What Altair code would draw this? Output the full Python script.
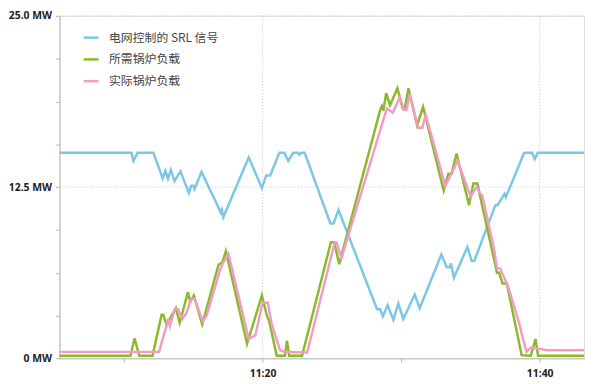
import altair as alt
import pandas as pd

# time in minutes after 11:00, value in MW
srl_t = [5.34, 10.53, 10.68, 10.98, 12.12, 12.79, 12.98, 13.17, 13.38, 13.64, 14.07, 14.68, 14.85, 15.02, 15.09,
         15.59, 16.99, 17.06, 17.17, 19.00, 19.95, 20.26, 20.55, 21.21, 21.57, 21.85, 22.21, 22.56, 22.65, 22.80,
         23.04, 24.89, 25.12, 25.48, 28.26, 28.49, 28.68, 29.02, 29.44, 29.80, 30.16, 30.98, 31.34, 32.90, 33.29,
         33.52, 33.59, 33.81, 34.78, 35.09, 35.28, 36.80, 36.96, 37.46, 37.56, 38.88, 39.45, 39.64, 39.86, 43.20]
srl_v = [15.0, 15.0, 14.41, 15.0, 15.0, 13.14, 13.70, 13.11, 13.75, 12.94, 13.65, 12.06, 12.59, 12.59, 12.36,
         13.61, 10.64, 10.83, 10.31, 14.67, 12.43, 13.35, 13.35, 15.0, 15.0, 14.41, 15.0, 15.0, 14.85, 15.0,
         15.0, 9.84, 9.84, 10.83, 3.58, 3.58, 3.06, 3.88, 2.82, 4.00, 2.87, 4.66, 3.65, 7.58, 6.64,
         6.64, 6.94, 5.88, 8.12, 7.11, 7.11, 11.18, 11.18, 12.01, 11.77, 15.0, 15.0, 14.55, 15.0, 15.0]

req_t = [5.34, 10.46, 10.76, 11.10, 12.06, 12.71, 12.83, 13.07, 13.43, 13.74, 14.02, 14.61, 14.78, 15.04, 15.64,
         16.82, 17.10, 17.35, 18.88, 19.95, 20.31, 20.48, 21.02, 21.62, 21.76, 21.92, 22.85, 24.93, 25.17, 25.53,
         28.49, 28.61, 28.72, 28.92, 29.20, 29.73, 30.11, 30.27, 30.53, 31.15, 31.58, 33.07, 33.40, 33.64, 34.00,
         34.90, 35.21, 35.50, 36.92, 37.08, 37.32, 37.63, 38.70, 39.36, 39.70, 39.88, 43.20]
req_v = [0.19, 0.19, 1.46, 0.19, 0.19, 3.18, 3.18, 2.47, 3.11, 3.65, 2.59, 4.82, 4.12, 4.59, 2.47,
         6.83, 7.01, 7.82, 1.06, 4.59, 3.11, 2.70, 0.18, 0.18, 1.29, 0.18, 0.18, 8.47, 8.47, 6.87,
         18.13, 18.41, 18.08, 19.35, 18.48, 19.72, 18.24, 18.24, 19.72, 17.00, 18.36, 12.24, 13.47, 13.47, 14.95,
         11.18, 12.76, 12.76, 6.24, 6.24, 5.46, 5.46, 0.23, 0.19, 1.41, 0.19, 0.19]

act_t = [5.34, 12.53, 13.12, 13.19, 13.31, 13.67, 13.90, 14.21, 14.50, 14.85, 15.09, 15.68, 15.96, 16.92, 17.10,
         17.53, 19.00, 19.48, 20.00, 20.38, 20.66, 21.26, 21.45, 21.85, 23.22, 25.21, 25.35, 25.69, 28.97, 29.40,
         29.91, 30.20, 30.39, 30.63, 31.22, 31.53, 31.77, 33.19, 33.48, 34.07, 35.02, 35.44, 35.73, 35.85, 36.68,
         36.92, 37.15, 37.74, 38.58, 38.70, 39.05, 39.36, 40.57, 43.20]
act_v = [0.47, 0.47, 2.59, 2.87, 2.35, 3.58, 3.58, 2.87, 3.30, 4.36, 4.36, 2.70, 3.11, 6.41, 6.87,
         7.65, 1.41, 1.69, 4.05, 4.05, 2.47, 0.59, 0.52, 0.46, 0.42, 8.47, 8.44, 7.30, 18.24, 17.94,
         19.07, 18.13, 18.13, 19.30, 16.83, 16.83, 17.77, 12.59, 13.19, 14.41, 11.82, 12.52, 12.01, 11.89, 8.12,
         6.59, 6.55, 5.18, 2.35, 1.77, 0.47, 0.78, 0.59, 0.59]

series_names = ["电网控制的 SRL 信号", "所需锅炉负载", "实际锅炉负载"]
series_colors = ["#7cc6e6", "#8cb92a", "#f09cc6"]

x_ticks = [10, 20, 30, 40]
x_grid = [20, 40]
y_ticks = [0, 3.125, 6.25, 9.375, 12.5, 15.625, 18.75, 21.875, 25]
y_grid = [12.5, 25]

rows = []
for name, ts, vs in zip(series_names, [srl_t, req_t, act_t], [srl_v, req_v, act_v]):
    for i, (t, v) in enumerate(zip(ts, vs)):
        rows.append({"series": name, "t": t, "v": v, "i": i})
df = pd.DataFrame(rows)

x_scale = alt.Scale(domain=[5.34, 43.2], nice=False, zero=False)
y_scale = alt.Scale(domain=[0, 25], nice=False)

FONT = "Open Sans"

x_axis = alt.Axis(values=x_ticks, grid=False, domainColor="#b8b8b8", tickColor="#b8b8b8", tickSize=4,
                  labelExpr="datum.value == 20 ? '11:20' : (datum.value == 40 ? '11:40' : '')",
                  labelFont=FONT, labelFontWeight="bold", labelFontSize=10.5, labelColor="#222222",
                  labelPadding=6, title=None)
y_axis = alt.Axis(values=y_ticks, grid=False, domainColor="#b8b8b8", tickColor="#b8b8b8", tickSize=4,
                  labelExpr="datum.value == 0 ? '0 MW' : (datum.value == 12.5 ? '12.5 MW' : (datum.value == 25 ? '25.0 MW' : ''))",
                  labelFont=FONT, labelFontWeight="bold", labelFontSize=10.5, labelColor="#222222",
                  labelPadding=4, title=None)

vgrid = alt.Chart(pd.DataFrame({"t": x_grid})).mark_rule(color="#c8c8c8", strokeDash=[1, 2], strokeWidth=1).encode(
    x=alt.X("t:Q", scale=x_scale, axis=x_axis))
hgrid = alt.Chart(pd.DataFrame({"v": y_grid})).mark_rule(color="#c8c8c8", strokeDash=[1, 2], strokeWidth=1).encode(
    y=alt.Y("v:Q", scale=y_scale, axis=y_axis))

lines = alt.Chart(df).mark_line(strokeWidth=2.5, strokeJoin="miter").encode(
    x=alt.X("t:Q", scale=x_scale, axis=x_axis),
    y=alt.Y("v:Q", scale=y_scale, axis=y_axis),
    color=alt.Color("series:N", scale=alt.Scale(domain=series_names, range=series_colors),
                    sort=series_names,
                    legend=alt.Legend(title=None, orient="none", legendX=23, legendY=13,
                                      symbolType="stroke", symbolSize=225, symbolStrokeWidth=2.5,
                                      labelFont="Noto Sans CJK SC", labelFontSize=12, labelColor="#444444",
                                      labelOffset=9, rowPadding=7)),
    order=alt.Order("i:Q"),
    detail="series:N",
)

chart = alt.layer(vgrid, hgrid, lines).properties(
    width=530, height=346,
    autosize=alt.AutoSizeParams(type="none"),
    padding={"left": 52, "top": 6, "right": 2, "bottom": 22},
).configure_view(stroke=None).configure(background="white")

chart.save("out.html", embed_options={"renderer": "svg", "actions": False})
